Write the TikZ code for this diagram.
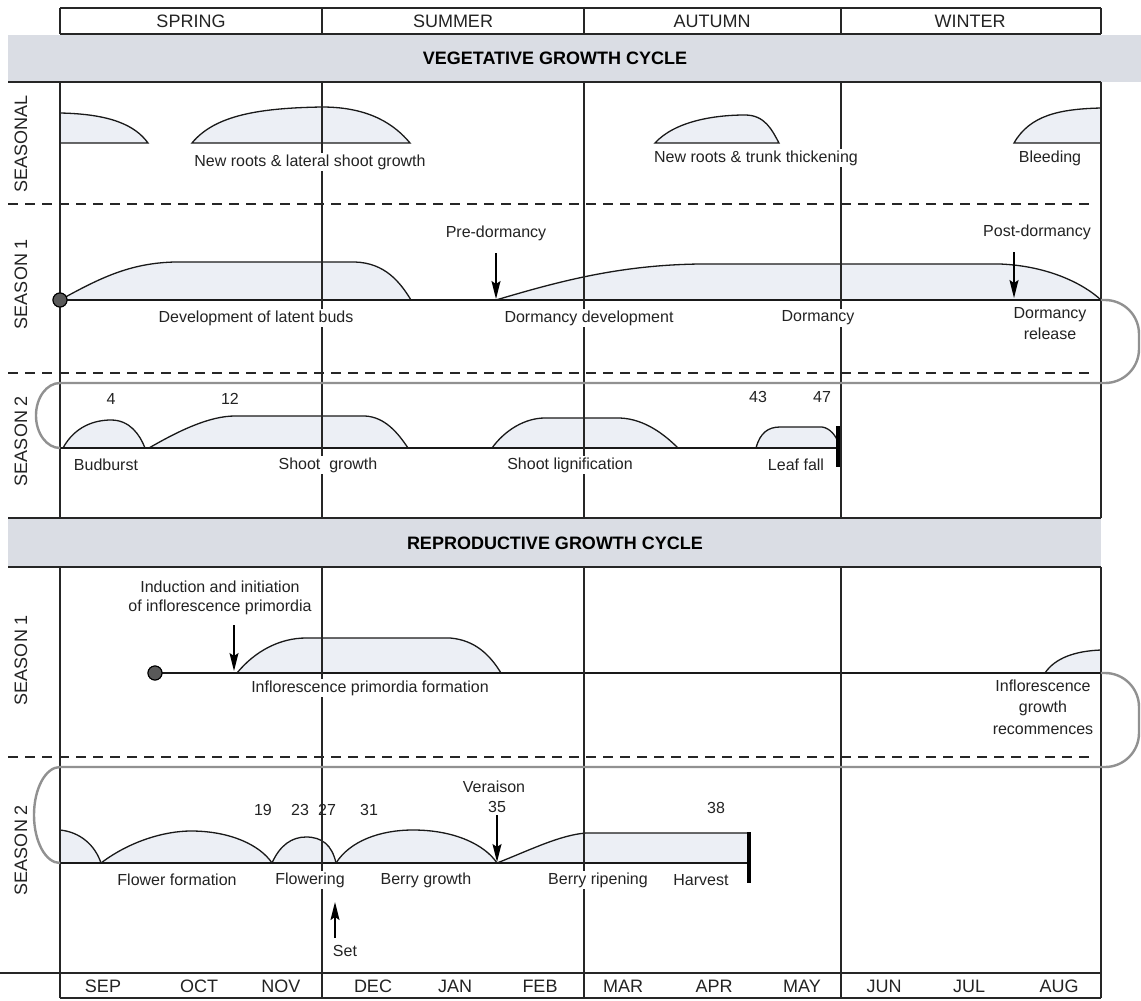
\documentclass[tikz,border=0pt]{standalone}
\usepackage{fontspec}
\setmainfont{Liberation Sans}
\usetikzlibrary{arrows.meta}
\pgfdeclarelayer{gridlayer}
\pgfdeclarelayer{toplayer}
\pgfsetlayers{main,gridlayer,toplayer}
\definecolor{bandcol}{RGB}{218,221,228}
\definecolor{humpfill}{RGB}{236,239,245}
\definecolor{loopgray}{RGB}{145,145,145}
\definecolor{txt}{RGB}{35,35,35}
\tikzset{
 gridline/.style={line width=1.2pt, draw=black!85},
 dashline/.style={line width=1.2pt, dash pattern=on 10pt off 7pt, draw=black!85},
 hump/.style={line width=1.3pt, fill=humpfill, draw=black!90},
 baseline/.style={line width=1.3pt, draw=black!90},
 loopline/.style={line width=2.4pt, draw=loopgray},
 lbl/.style={font=\fontsize{16}{19}\selectfont, text=txt, fill=white, inner sep=1.5pt, align=center},
 numlbl/.style={font=\fontsize{16}{19}\selectfont, text=txt, inner sep=1pt, align=center},
 hdr/.style={font=\fontsize{18}{21}\selectfont, text=txt, inner sep=1pt},
 bandtxt/.style={font=\bfseries\fontsize{18}{21}\selectfont, text=black, inner sep=1pt},
 rowlbl/.style={font=\fontsize{18}{21}\selectfont, text=txt, rotate=90, inner sep=1pt},
 arr/.style={line width=1.6pt, draw=black, -{Stealth[length=18pt,width=9pt,inset=3pt]}},
 endbar/.style={line width=4.5pt, draw=black},
 startdot/.style={circle, fill=black!65, draw=black, line width=1pt, minimum size=14pt, inner sep=0pt},
}
\begin{document}
\begin{tikzpicture}[x=1pt,y=-1pt]
\useasboundingbox (0,0) rectangle (1141,1001);
\fill[white] (0,0) rectangle (1141,1001);

% ---------- bands ----------
\fill[bandcol] (8,35) rectangle (1141,82);
\fill[bandcol] (8,518) rectangle (1101,567);

% ---------- humps (main layer) ----------
% seasonal
\path[hump] (60,143) -- (60,113) .. controls (110,114) and (135,125) .. (148,143) -- cycle;
\path[hump] (192,143) .. controls (215,115) and (260,108) .. (322,107) .. controls (370,107) and (395,125) .. (410,143) -- cycle;
\path[hump] (655,143) .. controls (675,121) and (715,115) .. (745,115) .. controls (765,115) and (772,130) .. (779,143) -- cycle;
\path[hump] (1014,143) .. controls (1030,115) and (1060,109) .. (1101,108) -- (1101,143) -- cycle;
% vegetative season 1
\path[hump] (60,300) .. controls (100,278) and (130,263) .. (175,262) -- (355,262) .. controls (385,263) and (400,282) .. (411,300) -- cycle;
\path[hump] (496,300) .. controls (560,281) and (620,265) .. (700,264) -- (1000,264) .. controls (1050,266) and (1085,285) .. (1101,300) -- cycle;
% vegetative season 2
\path[hump] (63,448) .. controls (75,426) and (95,420) .. (111,420) .. controls (130,420) and (140,435) .. (145,448) -- cycle;
\path[hump] (149,448) .. controls (180,430) and (210,416) .. (235,416) -- (365,416) .. controls (385,417) and (398,433) .. (408,448) -- cycle;
\path[hump] (492,448) .. controls (505,430) and (525,418) .. (545,418) -- (620,418) .. controls (645,419) and (665,435) .. (678,448) -- cycle;
\path[hump] (756,448) .. controls (760,433) and (768,427) .. (780,427) -- (822,427) .. controls (830,428) and (836,436) .. (838,442) -- (838,448) -- cycle;
% reproductive season 1
\path[hump] (237,673) .. controls (255,651) and (280,638) .. (306,638) -- (450,638) .. controls (475,640) and (490,655) .. (501,673) -- cycle;
\path[hump] (1045,673) .. controls (1055,658) and (1075,651) .. (1101,650) -- (1101,673) -- cycle;
% reproductive season 2
\path[hump] (60,863) -- (60,830) .. controls (80,832) and (95,845) .. (101,863) -- cycle;
\path[hump] (101,863) .. controls (130,841) and (165,831) .. (191,831) .. controls (230,831) and (260,845) .. (272,863) -- cycle;
\path[hump] (272,863) .. controls (280,845) and (292,837) .. (306,837) .. controls (322,837) and (332,845) .. (336,863) -- cycle;
\path[hump] (336,863) .. controls (350,841) and (380,830) .. (413,830) .. controls (455,830) and (485,845) .. (497,863) -- cycle;
\path[hump] (497,863) .. controls (530,850) and (560,835) .. (586,833) -- (749,833) -- (749,863) -- cycle;

% ---------- named points ----------
\coordinate (vs1end) at (1101,300);
\coordinate (vs2start) at (60,448);
\coordinate (vs2end) at (838,448);
\coordinate (rs1end) at (1101,673);
\coordinate (rs2start) at (60,863);
\coordinate (rs2end) at (749,863);
\node[startdot] (vdot) at (60,300) {};
\node[startdot] (rdot) at (155,673) {};

% baselines
\draw[baseline] (vdot.center) -- (vs1end);
\draw[baseline] (vs2start) -- (vs2end);
\draw[baseline] (rdot.center) -- (rs1end);
\draw[baseline] (rs2start) -- (rs2end);

% ---------- grid ----------
\begin{pgfonlayer}{gridlayer}
\foreach \gx in {60,322,584,841,1101}{
  \draw[gridline] (\gx,8) -- (\gx,34);
  \draw[gridline] (\gx,82) -- (\gx,518);
  \draw[gridline] (\gx,567) -- (\gx,998);
}
\draw[gridline] (60,8) -- (1101,8);
\draw[gridline] (60,34) -- (1101,34);
\draw[gridline] (8,82) -- (1101,82);
\draw[gridline] (8,518) -- (1101,518);
\draw[gridline] (8,567) -- (1101,567);
\draw[gridline] (0,973) -- (1101,973);
\draw[gridline] (60,998) -- (1101,998);
\draw[dashline] (8,204) -- (1095,204);
\draw[dashline] (8,373) -- (1095,373);
\draw[dashline] (8,757) -- (1095,757);
% grey loops
\draw[loopline] (vs1end) -- (1105,300) arc[start angle=270, end angle=360, radius=34]
  -- (1139,349) arc[start angle=0, end angle=90, radius=34]
  -- (60,383) arc[start angle=270, end angle=90, x radius=24, y radius=32.5] -- (vs2start);
\draw[loopline] (rs1end) -- (1105,673) arc[start angle=270, end angle=360, radius=34]
  -- (1139,733) arc[start angle=0, end angle=90, radius=34]
  -- (60,767) arc[start angle=270, end angle=90, x radius=26, y radius=48] -- (rs2start);
\end{pgfonlayer}

% ---------- top layer: labels, arrows, bars ----------
\begin{pgfonlayer}{toplayer}
\node[startdot] (vdotb) at (60,300) {};
\node[startdot] (rdotb) at (155,673) {};
% header
\node[hdr] (spring) at (191,21) {SPRING};
\node[hdr] (summer) at (453,21) {SUMMER};
\node[hdr] (autumn) at (712,21) {AUTUMN};
\node[hdr] (winter) at (970,21) {WINTER};
\node[bandtxt] (vegtitle) at (555,58) {VEGETATIVE GROWTH CYCLE};
\node[bandtxt] (reptitle) at (555,543) {REPRODUCTIVE GROWTH CYCLE};
% row labels
\node[rowlbl] (rseasonal) at (21,144) {SEASONAL};
\node[rowlbl] (rvs1) at (21,284) {SEASON 1};
\node[rowlbl] (rvs2) at (21,441) {SEASON 2};
\node[rowlbl] (rrs1) at (21,660) {SEASON 1};
\node[rowlbl] (rrs2) at (21,850) {SEASON 2};
% seasonal
\node[lbl] (newroots1) at (310,162) {New roots \& lateral shoot growth};
\node[lbl] (newroots2) at (756,158) {New roots \& trunk thickening};
\node[lbl] (bleeding) at (1050,158) {Bleeding};
% vegetative season 1
\node[lbl] (devlatent) at (256,318) {Development of latent buds};
\node[lbl] (dormdev) at (589,318) {Dormancy development};
\node[lbl] (dorm) at (818,318) {Dormancy};
\node[lbl, font=\fontsize{16}{21}\selectfont] (dormrel) at (1050,324) {Dormancy\\release};
\node[numlbl] (predorm) at (496,233) {Pre-dormancy};
\node[numlbl] (postdorm) at (1037,232) {Post-dormancy};
\coordinate (pdA) at (496,253); \coordinate (pdB) at (496,299);
\coordinate (podA) at (1014,252); \coordinate (podB) at (1014,298);
\draw[arr] (pdA) -- (pdB);
\draw[arr] (podA) -- (podB);
% vegetative season 2
\node[numlbl] (n4) at (111,399) {4};
\node[numlbl] (n12) at (230,399) {12};
\node[numlbl] (n43) at (758,397) {43};
\node[numlbl] (n47) at (822,397) {47};
\node[lbl] (budburst) at (106,465) {Budburst};
\node[lbl] (shootgr) at (328,465) {Shoot\ \ growth};
\node[lbl] (shootlig) at (570,465) {Shoot lignification};
\node[lbl] (leaffall) at (796,465) {Leaf fall};
\coordinate (lfA) at (838,426); \coordinate (lfB) at (838,467);
\draw[endbar] (lfA) -- (lfB);
% reproductive season 1
\node[numlbl] (induct) at (220,598) {Induction and initiation\\of inflorescence primordia};
\coordinate (inA) at (234,625); \coordinate (inB) at (234,671);
\draw[arr] (inA) -- (inB);
\node[lbl] (inflform) at (370,688) {Inflorescence primordia formation};
\node[lbl, font=\fontsize{16}{21.5}\selectfont] (inflrec) at (1043,707) {Inflorescence\\growth\\recommences};
% reproductive season 2
\node[numlbl] (n19) at (263,810) {19};
\node[numlbl] (n23) at (300,810) {23};
\node[numlbl] (n27) at (327,810) {27};
\node[numlbl] (n31) at (369,810) {31};
\node[numlbl] (veraison) at (494,787) {Veraison};
\node[numlbl] (n35) at (497,807) {35};
\node[numlbl] (n38) at (716,808) {38};
\coordinate (vrA) at (497,815); \coordinate (vrB) at (497,862);
\draw[arr] (vrA) -- (vrB);
\node[lbl] (flform) at (177,880) {Flower formation};
\node[lbl] (flowering) at (310,880) {Flowering};
\node[lbl] (berrygr) at (426,880) {Berry growth};
\node[lbl] (berryrip) at (598,880) {Berry ripening};
\node[lbl] (harvest) at (701,880) {Harvest};
\coordinate (hvA) at (749,832); \coordinate (hvB) at (749,883);
\draw[endbar] (hvA) -- (hvB);
\coordinate (setA) at (335,938); \coordinate (setB) at (335,902);
\draw[arr] (setA) -- (setB);
\node[numlbl] (setlbl) at (345,951) {Set};
% months
\foreach \mx/\mn/\mname in {103/SEP/msep,199/OCT/moct,281/NOV/mnov,373/DEC/mdec,455/JAN/mjan,540/FEB/mfeb,623/MAR/mmar,714/APR/mapr,802/MAY/mmay,884/JUN/mjun,969/JUL/mjul,1059/AUG/maug}{
  \node[hdr] (\mname) at (\mx,986) {\mn};
}
\end{pgfonlayer}
\end{tikzpicture}
\end{document}
